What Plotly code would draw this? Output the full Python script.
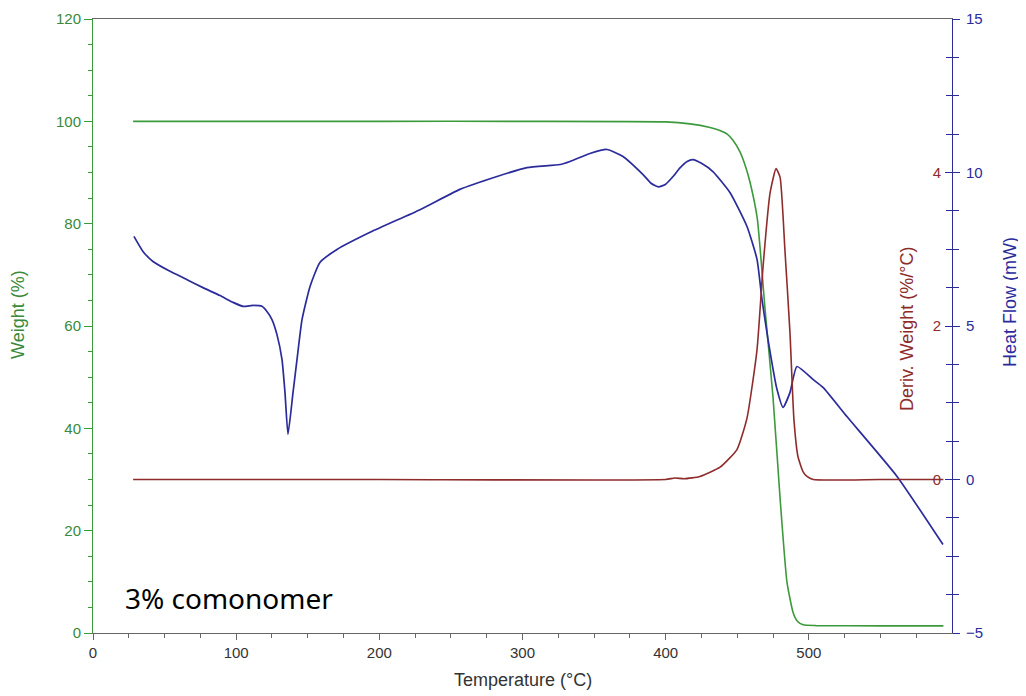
import plotly.graph_objects as go

# ---- data ----
temp_w = [28, 100, 200, 300, 400, 417, 431, 437, 443, 447, 452, 456, 459, 464, 469.5, 475, 480, 484.7, 489, 492, 496, 505, 550, 594]
weight = [100, 100, 100, 100, 99.9, 99.5, 98.8, 98.3, 97.5, 96.3, 94, 91, 88, 81, 63, 46, 26, 10, 4, 2.3, 1.6, 1.45, 1.4, 1.4]

temp_h = [28.6, 34.9, 41.9, 53.8, 65.7, 76.8, 88.7, 97.8, 104.8, 111.8, 118, 121.5, 125, 128.5, 132, 134.1, 136.2,
          139.7, 142.5, 146, 151.6, 158.5, 170.4, 193.5, 228.4, 256.3, 282.2, 303.1, 326.2, 333.2, 347.1, 359,
          370.2, 384.2, 390, 395, 400, 405, 410, 415, 419, 425, 433, 444.9, 456.8, 463.8, 467.3, 471.5, 477.8,
          482, 486.8, 491.7, 502.9, 509.9, 526.6, 561.6, 593.7]
heat_flow = [7.92, 7.43, 7.10, 6.78, 6.51, 6.25, 5.99, 5.77, 5.64, 5.67, 5.64, 5.47, 5.21, 4.72, 3.91, 2.83, 1.47,
             2.83, 3.91, 5.21, 6.29, 7.07, 7.49, 8.05, 8.79, 9.45, 9.87, 10.16, 10.26, 10.36, 10.62, 10.75,
             10.52, 9.93, 9.64, 9.53, 9.62, 9.86, 10.15, 10.36, 10.42, 10.3, 10.03, 9.35, 8.24, 7.17, 5.86, 4.56, 2.93,
             2.35, 2.83, 3.68, 3.26, 3.0, 2.05, 0.1, -2.12]

temp_d = [28, 200, 400, 406.5, 413, 424, 438, 449.8, 456.8, 463.8, 468, 472.9, 477.1, 479.9, 483.3, 486.8,
          489.6, 492.4, 496, 498.7, 503, 550, 594]
deriv = [0, 0, 0, 0.02, 0.01, 0.04, 0.16, 0.39, 0.8, 1.69, 2.77, 3.73, 4.05, 3.94, 2.99, 1.92,
         0.78, 0.30, 0.10, 0.04, 0, 0, 0]

x_ticks = [0, 100, 200, 300, 400, 500, 600]
w_ticks = [0, 20, 40, 60, 80, 100, 120]
hf_ticks = [-5, 0, 5, 10, 15]
d_ticks = [0, 2, 4]

GREEN = "#3c9a3c"
GREEN_T = "#3a8a3a"
RED = "#8e2c2c"
BLUE = "#2b2b9c"
TICKFONT = dict(family="Liberation Sans, Arial, sans-serif", size=15)

fig = go.Figure()
fig.add_trace(go.Scatter(x=temp_w, y=weight, mode="lines", line=dict(color=GREEN, width=1.6, shape="spline", smoothing=0.5),
                         yaxis="y", showlegend=False))
fig.add_trace(go.Scatter(x=temp_d, y=deriv, mode="lines", line=dict(color=RED, width=1.6, shape="spline", smoothing=0.5),
                         yaxis="y3", showlegend=False))
fig.add_trace(go.Scatter(x=temp_h, y=heat_flow, mode="lines", line=dict(color=BLUE, width=1.7, shape="spline", smoothing=0.5),
                         yaxis="y2", showlegend=False))

fig.update_layout(
    width=1018, height=688,
    margin=dict(l=85, r=74, t=11, b=63, autoexpand=False),
    paper_bgcolor="white", plot_bgcolor="white",
    xaxis=dict(range=[0, 600], tickvals=x_ticks, showgrid=False, zeroline=False, automargin=False,
               showline=True, linecolor="#666666", linewidth=1, mirror=True,
               ticks="outside", ticklen=6, tickcolor="#666666",
               minor=dict(ticks="outside", ticklen=4, dtick=25, tick0=0, tickcolor="#666666"),
               tickfont=dict(TICKFONT, color="#333333")),
    yaxis=dict(range=[0, 120], tickvals=w_ticks, showgrid=False, zeroline=False, automargin=False,
               showline=True, linecolor=GREEN, linewidth=1,
               ticks="outside", ticklen=8, tickcolor=GREEN,
               minor=dict(ticks="outside", ticklen=4, dtick=5, tick0=0, tickcolor=GREEN),
               tickfont=dict(TICKFONT, color=GREEN_T)),
    yaxis2=dict(range=[-5, 15], tickvals=hf_ticks, overlaying="y", side="right", anchor="x", automargin=False,
                showgrid=False, zeroline=False, showline=True, linecolor=BLUE, linewidth=1,
                ticks="outside", ticklen=7, tickcolor=BLUE, ticklabelstandoff=3,
                minor=dict(ticks="outside", ticklen=6, dtick=1.25, tick0=0, tickcolor=BLUE),
                tickfont=dict(TICKFONT, color=BLUE)),
    yaxis3=dict(range=[-2, 6], tickvals=d_ticks, overlaying="y", side="right", anchor="x", automargin=False,
                showgrid=False, zeroline=False, showline=False,
                ticks="inside", ticklen=7, tickcolor=BLUE, ticklabelposition="inside", ticklabelstandoff=4,
                minor=dict(ticks="inside", ticklen=6, dtick=0.5, tick0=0, tickcolor=BLUE),
                tickfont=dict(TICKFONT, color=RED)),
)

TITLEFONT = "Liberation Sans, Arial, sans-serif"
fig.add_annotation(text="Temperature (°C)", xref="paper", yref="paper", x=0.5, y=0, yshift=-47,
                   xanchor="center", yanchor="middle",
                   showarrow=False, font=dict(family=TITLEFONT, size=18, color="#333333"))
fig.add_annotation(text="Weight (%)", xref="paper", yref="paper", x=0, xshift=-75, y=0.518,
                   xanchor="center", yanchor="middle",
                   textangle=-90, showarrow=False, font=dict(family=TITLEFONT, size=18, color=GREEN_T))
fig.add_annotation(text="Heat Flow (mW)", xref="paper", yref="paper", x=1, xshift=58, y=0.539,
                   xanchor="center", yanchor="middle",
                   textangle=-90, showarrow=False, font=dict(family=TITLEFONT, size=18, color=BLUE))
fig.add_annotation(text="Deriv. Weight (%/°C)", xref="paper", yref="paper", x=1, xshift=-45, y=0.495,
                   xanchor="center", yanchor="middle",
                   textangle=-90, showarrow=False, font=dict(family=TITLEFONT, size=18, color=RED))
fig.add_annotation(text="3% comonomer", xref="x", yref="y", x=21, y=6.8, xanchor="left", yanchor="middle",
                   showarrow=False, font=dict(family="Noto Sans, sans-serif", size=28, color="black"))

fig.write_html("out.html")
